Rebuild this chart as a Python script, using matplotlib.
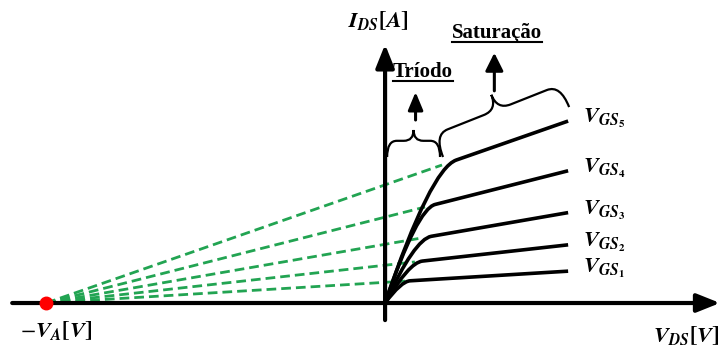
import numpy as np
import matplotlib
matplotlib.use('Agg')
import matplotlib.pyplot as plt
from matplotlib.path import Path
from matplotlib.patches import PathPatch, FancyArrowPatch
from matplotlib.lines import Line2D
from matplotlib.transforms import IdentityTransform

plt.rcParams['mathtext.fontset'] = 'stix'
plt.rcParams['font.family'] = ['Liberation Serif', 'DejaVu Serif']

# ==========================================
# Curvas IDS x VDS do MOSFET (unidades arbitrárias)
# ==========================================
V_A = 10.0                                  # tensão de Early
VDS_MAX = 5.4                               # fim das curvas
KNEE_VDS = [0.59, 0.88, 1.09, 1.18, 1.68]   # início da saturação
KNEE_IDS = [0.73, 1.37, 2.17, 3.20, 4.60]   # corrente no joelho
VGS_IDX = ['1', '2', '3', '4', '5']

W, H = 721, 349
GREEN = '#22a452'

fig = plt.figure(figsize=(W / 100, H / 100), dpi=100)
ax = fig.add_axes([0, 0, 1, 1])
ax.set_xlim(-11.36, 9.91)
ax.set_ylim(-1.533, 10.1)
ax.axis('off')


def P(x, y):
    # coordenadas em pixels da imagem (origem no topo) -> display
    return (x, H - y)


def seta(p0, p1, lw=3, hl=0.7, hw=0.3, ms=20):
    fig.add_artist(FancyArrowPatch(p0, p1, transform=IdentityTransform(),
                                   arrowstyle=f'-|>,head_length={hl},head_width={hw}',
                                   lw=lw, color='black', mutation_scale=ms,
                                   shrinkA=0, shrinkB=0))


def chave(p0, p1, h, lw=1.6):
    # chave "{" deitada entre p0 e p1, com o bico para cima
    p0 = np.asarray(p0, float)
    p1 = np.asarray(p1, float)
    d = p1 - p0
    L = np.hypot(*d)
    u = d / L
    n = np.array([-u[1], u[0]])
    m = 0.6 * h
    q = min(0.6 * m, 0.2 * L)
    local = [(0, 0), (0, m), (q, m), (L / 2 - q, m), (L / 2, m), (L / 2, h),
             (L / 2, m), (L / 2 + q, m), (L - q, m), (L, m), (L, 0)]
    C3, LT = Path.CURVE3, Path.LINETO
    codes = [Path.MOVETO, C3, C3, LT, C3, C3, C3, C3, LT, C3, C3]
    verts = [p0 + a * u + b * n for a, b in local]
    fig.add_artist(PathPatch(Path(verts, codes), fill=False, lw=lw,
                             color='black', transform=IdentityTransform()))
    return p0 + L / 2 * u + h * n


def sublinhado(x, y, s, size):
    t = fig.text(*P(x, y), s, transform=IdentityTransform(), fontsize=size,
                 fontweight='bold', ha='left', va='baseline')
    bb = t.get_window_extent(renderer=fig.canvas.get_renderer())
    yl = H - y - 4
    fig.add_artist(Line2D([bb.x0, bb.x1], [yl, yl], lw=1.5, color='black',
                          transform=IdentityTransform()))


# eixos
ax.annotate('', xy=(9.88, 0), xytext=(-11.0, 0),
            arrowprops=dict(arrowstyle='-|>,head_length=0.7,head_width=0.28', lw=3,
                            color='black', mutation_scale=20, shrinkA=0, shrinkB=0))
ax.annotate('', xy=(0, 8.62), xytext=(0, -0.57),
            arrowprops=dict(arrowstyle='-|>,head_length=0.7,head_width=0.28', lw=3,
                            color='black', mutation_scale=20, shrinkA=0, shrinkB=0))

# curvas: triodo (bézier) + saturação com inclinação de Early
for vk, ik, k in zip(KNEE_VDS, KNEE_IDS, VGS_IDX):
    g = ik / (vk + V_A)

    def sat(v):
        return ik + g * (v - vk)

    verts = [(0, 0), (0.8 * vk, sat(0.8 * vk)), (1.25 * vk, sat(1.25 * vk)),
             (VDS_MAX, sat(VDS_MAX))]
    codes = [Path.MOVETO, Path.CURVE3, Path.CURVE3, Path.LINETO]
    ax.add_patch(PathPatch(Path(verts, codes), fill=False, lw=2.6,
                           color='black', zorder=3))
    ax.plot([-V_A, vk], [0, ik], color=GREEN, lw=2, ls=(0, (3.5, 1.8)), zorder=2)
    ax.annotate(rf'$\mathbfit{{V}}_{{\mathbfit{{GS}}_{{\mathbf{{{k}}}}}}}$',
                xy=(VDS_MAX, sat(VDS_MAX)), xytext=(15, -2),
                textcoords='offset pixels', fontsize=16, va='baseline')

ax.plot(-V_A, 0, 'o', color='red', ms=9, zorder=5)

# rótulos dos eixos
fig.text(*P(378, 27), r'$\mathbfit{I}_{\mathbfit{DS}}\mathbf{[}\mathbfit{A}\mathbf{]}$',
         transform=IdentityTransform(), fontsize=16, ha='center', va='baseline')
fig.text(*P(653, 342), r'$\mathbfit{V}_{\mathbfit{DS}}\mathbf{[}\mathbfit{V}\mathbf{]}$',
         transform=IdentityTransform(), fontsize=16, ha='left', va='baseline')
fig.text(*P(20, 337), r'$-\mathbfit{V}_{\mathbfit{A}}\mathbf{[}\mathbfit{V}\mathbf{]}$',
         transform=IdentityTransform(), fontsize=16, ha='left', va='baseline')

# regiões de operação
v5, i5 = KNEE_VDS[-1], KNEE_IDS[-1]
g5 = i5 / (v5 + V_A)
joelho = ax.transData.transform((v5, i5))
fim = ax.transData.transform((VDS_MAX, i5 + g5 * (VDS_MAX - v5)))
origem = ax.transData.transform((0.06, 0))

bico_t = chave((origem[0], joelho[1] + 8), (joelho[0] - 2, joelho[1] + 8), 27)
seta((bico_t[0] + 2, bico_t[1] + 10), (bico_t[0] + 2, bico_t[1] + 38), lw=2.2,
     hl=0.6, hw=0.25, ms=18)
bico_s = chave((joelho[0] + 1, joelho[1] + 8), (fim[0] + 1, fim[1] + 14), 40)
seta((bico_s[0] + 3, bico_s[1] + 4), (bico_s[0] + 3, bico_s[1] + 42), lw=2.2,
     hl=0.6, hw=0.3, ms=18)

sublinhado(393, 77, 'Tríodo', 15)
sublinhado(452, 38, 'Saturação', 15)

fig.savefig('out.png', dpi=100)
